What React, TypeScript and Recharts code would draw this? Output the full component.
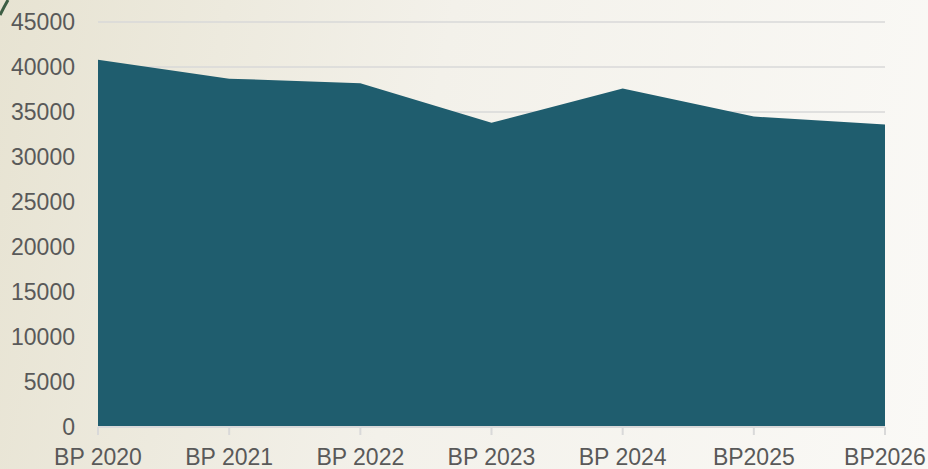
import { AreaChart, Area, XAxis, YAxis, CartesianGrid } from 'recharts'

const years = ['BP 2020', 'BP 2021', 'BP 2022', 'BP 2023', 'BP 2024', 'BP2025', 'BP2026']
const amounts = [40800, 38700, 38200, 33800, 37600, 34500, 33600]
const yTicks = [0, 5000, 10000, 15000, 20000, 25000, 30000, 35000, 40000, 45000]

const data = years.map((year, i) => ({ year, amount: amounts[i] }))

const tickStyle = { fontSize: 23, fill: '#595959', fontFamily: '"Liberation Sans", Arial, sans-serif' }

export default function App() {
  return (
    <div
      style={{
        position: 'absolute',
        left: 0,
        top: 0,
        width: 928,
        height: 469,
        background: 'linear-gradient(100deg, #e7e3d2 0%, #f3f1ea 45%, #faf9f6 100%)',
        overflow: 'hidden',
      }}
    >
      <svg width={40} height={40} style={{ position: 'absolute', left: 0, top: 0 }}>
        <path d="M0 15 Q4 7 8 0" stroke="#3d5e44" strokeWidth={3} fill="none" />
      </svg>
      <AreaChart width={928} height={469} data={data} margin={{ top: 22, right: 43, left: 0, bottom: 0 }}>
        <CartesianGrid vertical={false} stroke="#d9d9d9" strokeWidth={1.5} />
        <XAxis
          dataKey="year"
          height={42}
          tick={tickStyle}
          tickSize={8}
          tickMargin={14}
          axisLine={{ stroke: '#d9d9d9', strokeWidth: 2 }}
          tickLine={{ stroke: '#d9d9d9', strokeWidth: 2 }}
          interval={0}
        />
        <YAxis
          width={98}
          domain={[0, 45000]}
          ticks={yTicks}
          tick={tickStyle}
          axisLine={false}
          tickLine={false}
          tickSize={6}
          tickMargin={17}
        />
        <Area
          type="linear"
          dataKey="amount"
          stroke="none"
          fill="#1f5d6e"
          fillOpacity={1}
          isAnimationActive={false}
        />
      </AreaChart>
    </div>
  )
}
